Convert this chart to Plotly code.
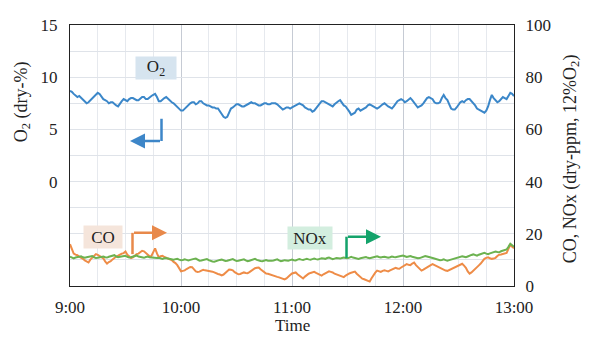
import pandas as pd
import plotly.graph_objects as go

# ---- data (sampled every minute, 9:00 - 13:00) ----
o2 = [8.7, 8.6, 8.4, 8.2, 8.1, 8.2, 8.0, 7.8, 7.7, 7.5, 7.6, 7.8, 7.9, 8.2, 8.4, 8.5,
      8.4, 8.1, 7.9, 7.8, 7.7, 7.5, 7.6, 7.6, 7.4, 7.3, 7.2, 7.5, 7.7, 7.9, 7.8, 7.7,
      7.9, 8.0, 8.0, 7.9, 7.8, 7.8, 8.0, 8.1, 8.1, 7.9, 7.9, 8.1, 8.2, 8.3, 8.4, 8.1,
      7.7, 7.7, 7.9, 8.0, 8.1, 7.9, 7.8, 7.6, 7.5, 7.3, 7.1, 6.9, 6.8, 6.8, 7.0, 7.2,
      7.4, 7.5, 7.6, 7.6, 7.4, 7.5, 7.7, 7.7, 7.5, 7.4, 7.3, 7.3, 7.2, 7.1, 7.1, 7.0,
      7.0, 6.7, 6.4, 6.2, 6.1, 6.2, 6.6, 7.0, 7.1, 7.3, 7.4, 7.4, 7.3, 7.2, 7.2, 7.3,
      7.4, 7.5, 7.6, 7.5, 7.5, 7.4, 7.3, 7.3, 7.4, 7.5, 7.5, 7.4, 7.4, 7.5, 7.5, 7.5,
      7.4, 7.2, 7.0, 6.9, 7.0, 7.1, 7.1, 7.0, 7.1, 7.2, 7.3, 7.4, 7.5, 7.4, 7.3, 7.1,
      7.0, 6.9, 6.9, 6.7, 6.8, 7.0, 7.2, 7.5, 7.7, 7.7, 7.6, 7.5, 7.4, 7.3, 7.2, 7.4,
      7.6, 7.7, 7.8, 7.5, 7.3, 7.2, 7.0, 6.7, 6.4, 6.5, 6.6, 6.9, 7.0, 6.8, 6.9, 7.0,
      7.1, 7.3, 7.4, 7.3, 7.2, 7.1, 7.0, 7.1, 7.3, 7.4, 7.5, 7.3, 7.2, 7.1, 7.0, 7.2,
      7.5, 7.7, 7.8, 7.9, 7.8, 7.6, 7.7, 7.9, 8.0, 7.8, 7.6, 7.3, 7.1, 7.2, 7.3, 7.5,
      7.8, 8.0, 8.1, 8.0, 7.9, 7.6, 7.5, 7.5, 7.6, 8.0, 8.3, 8.0, 7.8, 7.4, 7.0, 6.9,
      6.9, 7.1, 7.4, 7.6, 7.7, 7.6, 7.8, 7.9, 7.9, 7.7, 7.6, 7.3, 7.0, 6.9, 6.8, 6.7,
      6.6, 6.8, 7.2, 7.8, 8.3, 8.0, 7.8, 7.6, 7.7, 7.9, 8.1, 8.0, 7.9, 8.2, 8.5, 8.4,
      8.2]

co = [16.0, 14.0, 12.4, 12.0, 11.8, 11.2, 10.9, 10.4, 9.8, 9.3, 9.0, 10.1, 10.8, 11.6,
      12.2, 11.9, 11.5, 11.1, 10.6, 9.4, 8.6, 9.2, 9.5, 10.2, 10.8, 11.3, 11.6, 12.1,
      12.4, 12.6, 13.2, 12.0, 11.2, 10.7, 11.0, 11.8, 12.2, 12.4, 12.8, 13.5, 13.3, 12.6,
      12.0, 11.4, 11.5, 12.9, 14.4, 12.5, 11.0, 11.4, 11.6, 11.1, 10.8, 10.6, 10.4, 9.9,
      9.2, 8.8, 8.0, 6.6, 5.6, 5.8, 6.0, 6.5, 6.8, 7.3, 7.2, 6.3, 5.6, 5.4, 5.5, 5.9,
      6.2, 6.0, 5.9, 5.6, 5.6, 5.5, 5.2, 4.8, 4.6, 4.4, 4.1, 4.4, 5.0, 5.7, 6.3, 6.2,
      6.0, 5.3, 4.8, 4.5, 4.6, 5.0, 5.2, 5.0, 4.9, 5.3, 5.8, 6.4, 6.8, 7.0, 7.1, 6.4,
      5.8, 5.2, 4.8, 4.7, 4.4, 4.1, 4.0, 3.7, 3.5, 3.3, 3.0, 2.7, 2.5, 2.9, 3.4, 4.2,
      4.8, 5.0, 5.2, 4.5, 3.9, 3.3, 2.9, 3.6, 4.3, 4.7, 5.0, 5.3, 5.4, 5.0, 4.6, 4.2,
      4.0, 4.5, 4.8, 5.3, 5.6, 5.4, 5.2, 4.7, 4.4, 4.2, 3.9, 3.6, 3.4, 4.0, 4.5, 4.8,
      5.1, 5.3, 5.5, 4.7, 4.0, 3.3, 2.8, 2.6, 2.4, 2.0, 1.7, 3.0, 4.2, 5.1, 5.9, 5.6,
      5.4, 5.8, 6.0, 5.8, 5.6, 6.0, 6.4, 6.8, 7.0, 6.7, 6.6, 7.1, 7.6, 8.1, 8.4, 8.1,
      8.0, 8.6, 9.0, 8.0, 7.2, 6.4, 5.9, 6.3, 6.8, 7.3, 7.6, 8.0, 8.4, 8.0, 7.6, 7.2,
      7.0, 6.5, 6.2, 5.9, 5.8, 6.1, 6.5, 6.8, 7.0, 7.3, 7.6, 8.1, 8.5, 7.8, 7.0, 5.6,
      4.7, 5.2, 5.8, 6.6, 7.2, 7.9, 8.6, 9.6, 10.4, 10.8, 11.0, 10.6, 10.4, 10.5, 10.8,
      11.5, 12.0, 12.1, 12.4, 12.6, 12.7, 14.2, 15.8, 15.0, 14.5]

nox = [11.2, 10.8, 10.6, 10.9, 11.0, 11.3, 11.4, 11.0, 10.8, 11.0, 11.1, 11.4, 11.5, 11.0,
       10.7, 10.8, 11.0, 11.2, 11.3, 11.0, 10.9, 11.2, 11.4, 11.6, 11.8, 11.3, 11.0, 11.2,
       11.3, 11.5, 11.6, 11.2, 10.9, 11.0, 11.2, 11.5, 11.7, 11.3, 11.1, 10.9, 10.8, 11.1,
       11.3, 11.0, 10.9, 10.7, 10.6, 10.7, 10.8, 10.6, 10.4, 10.6, 10.7, 10.5, 10.3, 10.2,
       10.1, 10.3, 10.4, 10.1, 9.9, 10.0, 10.2, 10.0, 9.8, 10.0, 10.3, 10.4, 10.5, 10.0,
       9.7, 9.8, 9.9, 10.1, 10.3, 9.9, 9.5, 9.4, 9.3, 9.6, 9.8, 10.0, 10.1, 9.8, 9.6,
       9.7, 9.9, 10.1, 10.3, 9.9, 9.6, 9.7, 9.8, 10.0, 10.2, 9.8, 9.5, 9.7, 9.9, 10.2,
       10.4, 10.0, 9.7, 9.6, 9.5, 9.7, 9.9, 9.7, 9.6, 9.7, 9.8, 10.0, 10.2, 9.8, 9.5,
       9.7, 9.9, 9.8, 9.7, 9.9, 10.1, 9.9, 9.8, 10.1, 10.3, 10.1, 10.0, 10.2, 10.4, 10.2,
       10.1, 10.3, 10.5, 10.3, 10.2, 10.4, 10.6, 10.5, 10.4, 10.7, 10.9, 10.6, 10.3, 10.5,
       10.7, 10.6, 10.5, 10.7, 10.9, 10.7, 10.6, 10.9, 11.2, 10.9, 10.7, 10.5, 10.4, 10.6,
       10.8, 11.0, 11.1, 10.8, 10.6, 10.8, 11.0, 11.2, 11.4, 11.1, 10.9, 11.1, 11.2, 11.0,
       10.8, 11.0, 11.3, 11.1, 11.0, 11.2, 11.4, 11.6, 11.7, 11.4, 11.1, 11.3, 11.5, 11.2,
       11.0, 10.8, 10.6, 10.7, 10.9, 11.2, 11.5, 11.3, 11.2, 10.9, 10.7, 10.5, 10.3, 10.1,
       9.9, 10.0, 10.2, 9.9, 9.7, 9.9, 10.1, 10.4, 10.6, 10.7, 10.9, 11.2, 11.4, 11.2,
       11.0, 11.3, 11.7, 11.9, 12.1, 11.8, 11.6, 12.0, 12.3, 12.5, 12.7, 12.4, 12.2, 12.5,
       12.8, 13.0, 13.2, 13.0, 12.9, 13.3, 13.6, 13.8, 14.0, 15.0, 16.2, 15.6, 15.0]

start = "2020-01-01 09:00"
hour_ticks = ["2020-01-01 09:00", "2020-01-01 10:00", "2020-01-01 11:00",
              "2020-01-01 12:00", "2020-01-01 13:00"]
hour_labels = ["9:00", "10:00", "11:00", "12:00", "13:00"]
o2_ticks = [0, 5, 10, 15]
ppm_ticks = [0, 20, 40, 60, 80, 100]


def times(n):
    return pd.date_range(start, periods=n, freq="1min")


FONT = "Liberation Serif, Times New Roman, serif"
BLUE = "#3b87c9"
ORANGE = "#ee8c47"
GREEN = "#6cb250"

fig = go.Figure()
fig.add_trace(go.Scatter(x=times(len(o2)), y=o2, mode="lines", yaxis="y",
                         line=dict(color=BLUE, width=2), showlegend=False))
fig.add_trace(go.Scatter(x=times(len(co)), y=co, mode="lines", yaxis="y2",
                         line=dict(color=ORANGE, width=2), showlegend=False))
fig.add_trace(go.Scatter(x=times(len(nox)), y=nox, mode="lines", yaxis="y2",
                         line=dict(color=GREEN, width=2), showlegend=False))

# page has an 8px body margin; plot area target in window pixels
OFF = 8
L, R, T, B = 70, 514, 16, 286


def px(x):
    return (x - L) / (R - L)


def py(y):
    return (B - y) / (B - T)


fig.update_layout(
    width=592 - OFF, height=338 - OFF,
    margin=dict(l=L - OFF, r=592 - R, t=T - OFF, b=338 - B),
    paper_bgcolor="white", plot_bgcolor="white",
    font=dict(family=FONT, size=17, color="#222"),
    xaxis=dict(type="date", range=[hour_ticks[0], hour_ticks[-1]],
               tickvals=hour_ticks, ticktext=hour_labels,
               showgrid=True, gridcolor="#c6cbd4", gridwidth=1,
               minor=dict(dtick=15 * 60 * 1000, showgrid=True, gridcolor="#e6e9ee"),
               showline=True, linecolor="#222", linewidth=1.3, mirror=True,
               ticks="outside", ticklen=5, tickcolor="rgba(0,0,0,0)",
               zeroline=False, ticklabeloverflow="allow"),
    yaxis=dict(range=[-10, 15], tickvals=o2_ticks, showgrid=False, zeroline=False,
               showline=True, linecolor="#222", linewidth=1.3,
               ticks="outside", ticklen=8, tickcolor="rgba(0,0,0,0)",
               ticklabeloverflow="allow"),
    yaxis2=dict(range=[0, 100], tickvals=ppm_ticks, overlaying="y", side="right",
                showgrid=True, gridcolor="#dfe3e9", zeroline=False,
                minor=dict(dtick=10, showgrid=True, gridcolor="#dfe3e9"),
                showline=True, linecolor="#222", linewidth=1.3,
                ticks="outside", ticklen=7, tickcolor="rgba(0,0,0,0)",
                ticklabeloverflow="allow"),
)

C = dict(xanchor="center", yanchor="middle", xref="paper", yref="paper")

# Axis titles
fig.add_annotation(text="O<sub>2</sub> (dry-%)", x=px(22), y=py(96), textangle=-90,
                   showarrow=False, font=dict(size=18, family=FONT), **C)
fig.add_annotation(text="CO, NOx (dry-ppm, 12%O<sub>2</sub>)", x=px(571), y=py(155),
                   textangle=-90, showarrow=False, font=dict(size=18, family=FONT), **C)
fig.add_annotation(text="Time", x=px(292), y=py(327), showarrow=False,
                   font=dict(size=17, family=FONT), **C)

# Series labels
labels = [("O<sub>2</sub>", 156, 60, "#d6e4ef", 36),
          ("CO", 103, 235, "#f5e5db", 34),
          ("NOx", 310, 236, "#d3eedf", 40)]
for txt, cx, cy, bg, w in labels:
    fig.add_annotation(text=txt, x=px(cx), y=py(cy), showarrow=False, bgcolor=bg,
                       width=w, height=18, borderpad=2,
                       font=dict(size=17, family=FONT, color="#222"), **C)

# Bent arrows: (vertical x, y_from, y_to, head x, color)
arrows = [(161.5, 113, 136, 130, "#3d86c8"),
          (132.5, 253, 231, 167, "#e8894a"),
          (346.5, 257, 235, 381, "#14a36b")]
for vx, y0, y1, hx, col in arrows:
    fig.add_shape(type="line", xref="paper", yref="paper",
                  x0=px(vx), x1=px(vx), y0=py(y0), y1=py(y1),
                  line=dict(color=col, width=2.5))
    fig.add_annotation(text="", xref="paper", yref="paper", x=px(hx), y=py(y1),
                       ax=vx - hx, ay=0, showarrow=True, arrowhead=2,
                       arrowsize=1.2, arrowwidth=2.5, arrowcolor=col, standoff=0)

fig.write_html("out.html")
